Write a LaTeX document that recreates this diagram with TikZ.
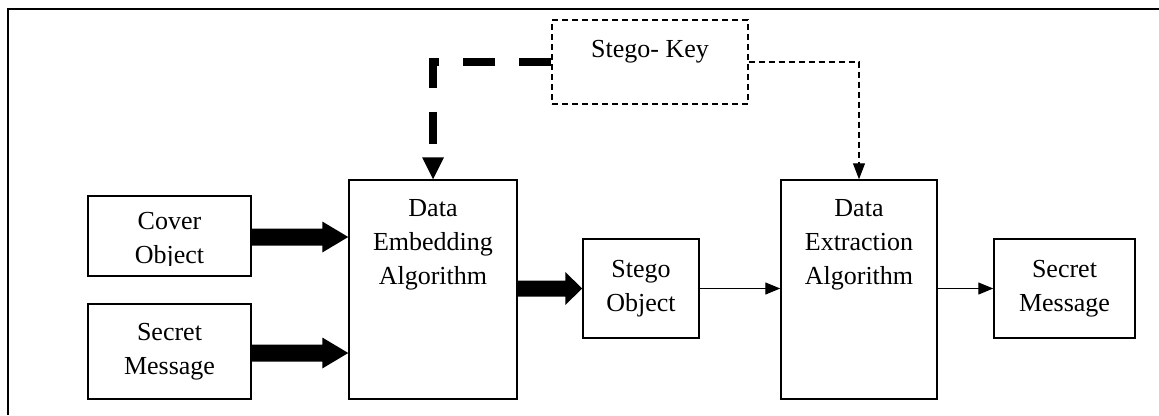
\documentclass[tikz,border=0pt]{standalone}
\usepackage{fontspec}
\setmainfont{Liberation Serif}
\usetikzlibrary{calc,arrows.meta}
\newcommand\mybarrow[5]{\fill ($(#1)+(0,-#3)$) -- ($(#2)+(-#5,-#3)$) -- ($(#2)+(-#5,-#4)$) -- (#2) -- ($(#2)+(-#5,#4)$) -- ($(#2)+(-#5,#3)$) -- ($(#1)+(0,#3)$) -- cycle;}
\begin{document}
\begin{tikzpicture}[x=1pt,y=-1pt,
  box/.style={draw, line width=1.5pt, inner sep=0pt, align=center, font=\fontsize{26pt}{34pt}\selectfont},
  txt/.style={inner sep=0pt, align=center, font=\fontsize{26pt}{34pt}\selectfont},
  dashedbox/.style={dash pattern=on 6pt off 4pt, line width=1.2pt},
  thinarrow/.style={line width=1.3pt, -{Triangle[length=15pt,width=12pt]}}]
\useasboundingbox (0,0) rectangle (1159,415);
% frame
\draw[line width=2pt] (1159,8.5) -- (7.5,8.5) -- (7.5,415);
% boxes
\node[box, minimum width=163pt, minimum height=80pt] (cover) at (169.5,236) {};
\begin{scope}
  \clip (88,190) rectangle (251,265.5);
  \node[txt] (covert) at (169.5,241) {Cover\\Object};
\end{scope}
\node[box, minimum width=163pt, minimum height=95pt] (secl) at (169.5,351.5) {Secret\\Message};
\node[box, minimum width=168pt, minimum height=219pt] (emb) at (433,289.5) {};
\node[txt] (embt) at (433,245) {Data\\Embedding\\Algorithm};
\node[box, minimum width=116pt, minimum height=99pt] (sobj) at (641,288.5) {Stego\\Object};
\node[box, minimum width=156pt, minimum height=219pt] (ext) at (859,289.5) {};
\node[txt] (extt) at (859,245) {Data\\Extraction\\Algorithm};
\node[box, minimum width=141pt, minimum height=99pt] (secr) at (1064.5,288.5) {Secret\\Message};
\node[box, dashedbox, minimum width=196pt, minimum height=84pt] (key) at (650,62) {};
\node[txt] (keyt) at (650,51.6) {Stego- Key};
% thick dashed key -> embedding
\coordinate (kc) at (key.west -| emb.north);
\draw[line width=8pt, dash pattern=on 32pt off 24pt] (key.west) -- (kc) -- ($(emb.north)+(0,-22)$);
\fill (emb.north) -- ++(-11,-22) -- ++(22,0) -- cycle;
% thin dashed key -> extraction
\draw[dashedbox, -{Triangle[length=16pt,width=12pt]}] (key.east) -| (ext.north);
% block arrows
\coordinate (a1s) at ($(cover.east)+(0,1)$);
\coordinate (a1e) at (a1s -| emb.west);
\mybarrow{a1s}{a1e}{8.5}{15.5}{26}
\coordinate (a2s) at ($(secl.east)+(0,1.5)$);
\coordinate (a2e) at (a2s -| emb.west);
\mybarrow{a2s}{a2e}{8.5}{15.5}{26}
\coordinate (a3s) at (emb.east |- sobj.west);
\coordinate (a3e) at (sobj.west);
\mybarrow{a3s}{a3e}{8}{16.5}{17}
% thin arrows
\draw[thinarrow] (sobj.east) -- (sobj.east -| ext.west);
\draw[thinarrow] (ext.east |- secr.west) -- (secr.west);
\end{tikzpicture}
\end{document}
